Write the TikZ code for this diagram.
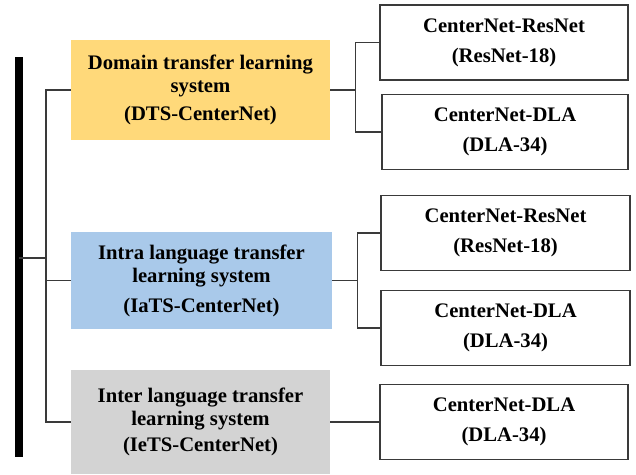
\documentclass[tikz,border=0pt]{standalone}
\usepackage{fontspec}
\setmainfont{Liberation Serif}
\definecolor{dtsyellow}{HTML}{FFD97A}
\definecolor{iatsblue}{HTML}{A9C9EA}
\definecolor{ietsgray}{HTML}{D3D3D3}
\definecolor{linegray}{HTML}{3A3A3A}
\tikzset{
    sysbox/.style={minimum width=6.475cm, minimum height=2.45cm, inner sep=0pt, align=center,
        font=\bfseries\fontsize{14.7}{16.4}\selectfont},
    netbox/.style={draw=linegray, line width=0.9pt, minimum width=6.2cm, minimum height=1.875cm,
        inner sep=0pt, align=center, font=\bfseries\fontsize{14.7}{16.4}\selectfont},
    conn/.style={linegray, line width=0.9pt},
}
\begin{document}
\begin{tikzpicture}[x=0.025cm, y=-0.025cm]
    \useasboundingbox (0,0) rectangle (636,474);

    % Barra principale
    \coordinate (bartop) at (19,57);
    \coordinate (barbot) at (19,457);
    \coordinate (barmid) at (19,258);
    \coordinate (spine) at (46,258);
    \draw[line width=5pt, black] (bartop) -- (barbot);

    % Sistemi
    \node[sysbox, fill=dtsyellow, minimum height=2.5cm] (dts) at (200.5,90)
        {Domain transfer learning\\system\\[4pt](DTS-CenterNet)};
    \node[sysbox, fill=iatsblue, minimum width=6.525cm, minimum height=2.425cm] (iats) at (201.5,280.5)
        {Intra language transfer\\learning system\\[5pt](IaTS-CenterNet)};
    \node[sysbox, fill=ietsgray, minimum height=2.6cm] (iets) at (200.5,422)
        {Inter language transfer\\learning system\\[2pt](IeTS-CenterNet)};

    % Reti
    \node[netbox] (dtsres) at (504,42.5) {CenterNet-ResNet\\[5pt](ResNet-18)};
    \node[netbox, minimum width=6.15cm] (dtsdla) at (505,132) {CenterNet-DLA\\[5pt](DLA-34)};
    \node[netbox, minimum width=6.225cm] (iatsres) at (505.5,233) {CenterNet-ResNet\\[5pt](ResNet-18)};
    \node[netbox, minimum width=6.225cm] (iatsdla) at (505.5,328) {CenterNet-DLA\\[5pt](DLA-34)};
    \node[netbox] (ietsdla) at (504,422) {CenterNet-DLA\\[5pt](DLA-34)};

    % Collegamenti a sinistra
    \draw[conn] (barmid) -- (spine);
    \draw[conn] (dts.west) -- (dts.west -| spine) -- (iets.west -| spine) -- (iets.west);
    \draw[conn] (iats.west) -- (iats.west -| spine);

    % Collegamenti a destra
    \draw[conn] (dts.east) -- ++(25,0) |- (dtsres.west);
    \draw[conn] (dts.east) ++(25,0) |- (dtsdla.west);
    \draw[conn] (iats.east) -- ++(25,0) |- (iatsres.west);
    \draw[conn] (iats.east) ++(25,0) |- (iatsdla.west);
    \draw[conn] (iets.east) -- (ietsdla.west);

\end{tikzpicture}
\end{document}
